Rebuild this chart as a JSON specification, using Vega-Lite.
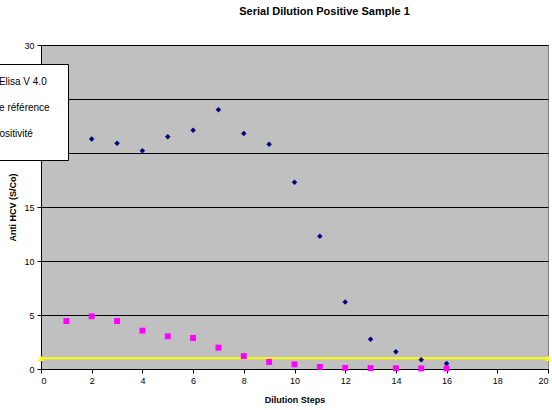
{
  "$schema": "https://vega.github.io/schema/vega-lite/v6.json",
  "autosize": {"type": "none"},
  "padding": {"left": 41, "top": 45, "right": 4, "bottom": 41},
  "width": 507,
  "height": 324,
  "background": "white",
  "title": {
    "text": "Serial Dilution Positive Sample 1",
    "font": "Liberation Sans",
    "fontSize": 11,
    "fontWeight": "bold",
    "color": "black",
    "anchor": "middle",
    "dx": 30,
    "offset": 24
  },
  "config": {
    "font": "Liberation Sans",
    "view": {"fill": "#C0C0C0", "stroke": "#808080", "strokeWidth": 1},
    "axis": {
      "labelFont": "Liberation Sans",
      "labelFontSize": 9,
      "labelColor": "black",
      "titleFont": "Liberation Sans",
      "titleFontSize": 9,
      "titleFontWeight": "bold",
      "titleColor": "black",
      "domainColor": "black",
      "tickColor": "black",
      "tickSize": 4,
      "gridColor": "black",
      "gridOpacity": 1,
      "gridWidth": 1
    }
  },
  "data": {
    "values": [
      {"step": 1, "value": 21.5, "series": "Anti HCV Elisa V 4.0"},
      {"step": 2, "value": 21.3, "series": "Anti HCV Elisa V 4.0"},
      {"step": 3, "value": 20.9, "series": "Anti HCV Elisa V 4.0"},
      {"step": 4, "value": 20.2, "series": "Anti HCV Elisa V 4.0"},
      {"step": 5, "value": 21.5, "series": "Anti HCV Elisa V 4.0"},
      {"step": 6, "value": 22.1, "series": "Anti HCV Elisa V 4.0"},
      {"step": 7, "value": 24.0, "series": "Anti HCV Elisa V 4.0"},
      {"step": 8, "value": 21.8, "series": "Anti HCV Elisa V 4.0"},
      {"step": 9, "value": 20.8, "series": "Anti HCV Elisa V 4.0"},
      {"step": 10, "value": 17.3, "series": "Anti HCV Elisa V 4.0"},
      {"step": 11, "value": 12.3, "series": "Anti HCV Elisa V 4.0"},
      {"step": 12, "value": 6.2, "series": "Anti HCV Elisa V 4.0"},
      {"step": 13, "value": 2.75, "series": "Anti HCV Elisa V 4.0"},
      {"step": 14, "value": 1.6, "series": "Anti HCV Elisa V 4.0"},
      {"step": 15, "value": 0.86, "series": "Anti HCV Elisa V 4.0"},
      {"step": 16, "value": 0.5, "series": "Anti HCV Elisa V 4.0"},
      {"step": 1, "value": 4.44, "series": "Trousse de référence"},
      {"step": 2, "value": 4.88, "series": "Trousse de référence"},
      {"step": 3, "value": 4.44, "series": "Trousse de référence"},
      {"step": 4, "value": 3.55, "series": "Trousse de référence"},
      {"step": 5, "value": 3.03, "series": "Trousse de référence"},
      {"step": 6, "value": 2.87, "series": "Trousse de référence"},
      {"step": 7, "value": 1.98, "series": "Trousse de référence"},
      {"step": 8, "value": 1.2, "series": "Trousse de référence"},
      {"step": 9, "value": 0.65, "series": "Trousse de référence"},
      {"step": 10, "value": 0.43, "series": "Trousse de référence"},
      {"step": 11, "value": 0.19, "series": "Trousse de référence"},
      {"step": 12, "value": 0.1, "series": "Trousse de référence"},
      {"step": 13, "value": 0.08, "series": "Trousse de référence"},
      {"step": 14, "value": 0.07, "series": "Trousse de référence"},
      {"step": 15, "value": 0.05, "series": "Trousse de référence"},
      {"step": 16, "value": 0.05, "series": "Trousse de référence"},
      {"step": 0, "value": 1, "series": "Seuil de positivité"},
      {"step": 20, "value": 1, "series": "Seuil de positivité"}
    ]
  },
  "layer": [
    {
      "transform": [{"filter": "datum.series === 'Seuil de positivité'"}],
      "mark": {"type": "line", "color": "#FFFF00", "strokeWidth": 2, "clip": false},
      "encoding": {
        "x": {"field": "step", "type": "quantitative"},
        "y": {"field": "value", "type": "quantitative"}
      }
    },
    {
      "mark": {"type": "point", "filled": true, "opacity": 1, "clip": false},
      "encoding": {
        "x": {
          "field": "step",
          "type": "quantitative",
          "scale": {"domain": [0, 20], "nice": false},
          "axis": {"values": [0, 2, 4, 6, 8, 10, 12, 14, 16, 18, 20], "grid": false, "title": "Dilution Steps", "labelPadding": 3, "titlePadding": 10}
        },
        "y": {
          "field": "value",
          "type": "quantitative",
          "scale": {"domain": [0, 30], "nice": false},
          "axis": {"values": [0, 5, 10, 15, 20, 25, 30], "grid": true, "title": "Anti HCV (S/Co)", "labelPadding": 3, "titlePadding": 6}
        },
        "color": {
          "field": "series",
          "type": "nominal",
          "scale": {
            "domain": ["Anti HCV Elisa V 4.0", "Trousse de référence", "Seuil de positivité"],
            "range": ["#000080", "#FF00FF", "#FFFF00"]
          },
          "legend": {
            "title": null,
            "orient": "none",
            "legendX": -118,
            "legendY": 19,
            "fillColor": "white",
            "strokeColor": "black",
            "padding": 18,
            "rowPadding": 13,
            "labelFontSize": 10,
            "labelFont": "Liberation Sans",
            "labelColor": "black",
            "labelBaseline": "bottom",
            "symbolSize": 40,
            "encode": {
              "legend": {"update": {"strokeWidth": {"value": 2}}}
            }
          }
        },
        "shape": {
          "field": "series",
          "type": "nominal",
          "scale": {
            "domain": ["Anti HCV Elisa V 4.0", "Trousse de référence", "Seuil de positivité"],
            "range": ["diamond", "square", "triangle-up"]
          },
          "legend": null
        },
        "size": {
          "field": "series",
          "type": "nominal",
          "scale": {
            "domain": ["Anti HCV Elisa V 4.0", "Trousse de référence", "Seuil de positivité"],
            "range": [30, 40, 30]
          },
          "legend": null
        }
      }
    }
  ]
}
